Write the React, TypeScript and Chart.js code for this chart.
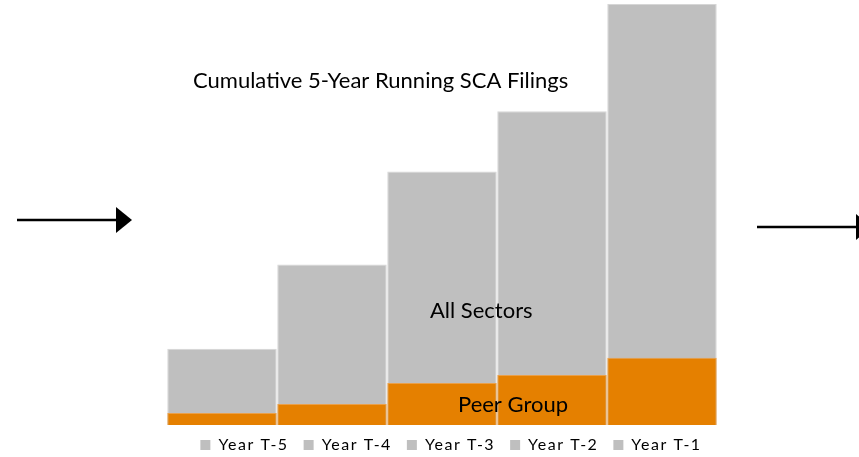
import React, { useEffect, useRef } from "react";
import { Chart, registerables } from "chart.js";

Chart.register(...registerables);

const categories = ["Year T-5", "Year T-4", "Year T-3", "Year T-2", "Year T-1"];
const allSectors = [76, 160, 253, 313, 420];
const peerGroup = [12, 21, 42, 50, 67];
const titleText = "Cumulative 5-Year Running SCA Filings";
const allSectorsLabel = "All Sectors";
const peerGroupLabel = "Peer Group";

const FONT = "Lato, 'Liberation Sans', sans-serif";

const annotations = {
  id: "annotations",
  afterDraw(chart: any) {
    const ctx = chart.ctx as CanvasRenderingContext2D;
    ctx.save();
    (ctx as any).letterSpacing = "0px";
    ctx.fillStyle = "#000";
    ctx.font = `22px ${FONT}`;
    ctx.textBaseline = "alphabetic";
    ctx.textAlign = "left";
    ctx.fillText(titleText, 193, 88);
    ctx.fillText(allSectorsLabel, 430, 318);
    ctx.fillText(peerGroupLabel, 458, 412);

    ctx.strokeStyle = "#000";
    ctx.lineWidth = 2.5;
    // left arrow
    ctx.beginPath();
    ctx.moveTo(17, 220);
    ctx.lineTo(118, 220);
    ctx.stroke();
    ctx.beginPath();
    ctx.moveTo(116, 207);
    ctx.lineTo(132, 220);
    ctx.lineTo(116, 233);
    ctx.closePath();
    ctx.fill();
    // right arrow
    ctx.beginPath();
    ctx.moveTo(757, 227);
    ctx.lineTo(858, 227);
    ctx.stroke();
    ctx.beginPath();
    ctx.moveTo(856, 214);
    ctx.lineTo(872, 227);
    ctx.lineTo(856, 240);
    ctx.closePath();
    ctx.fill();
    ctx.restore();
  },
};

const spacing = {
  id: "spacing",
  beforeUpdate(chart: any) {
    (chart.ctx as any).letterSpacing = "1.5px";
  },
  afterLayout(chart: any) {
    const lg = chart.legend;
    if (lg) {
      lg.left += 9;
      lg.right += 9;
      lg.top -= 3;
      lg.bottom -= 3;
    }
  },
  beforeDraw(chart: any) {
    (chart.ctx as any).letterSpacing = "1.5px";
  },
};

export default function App() {
  const ref = useRef<HTMLCanvasElement>(null);
  useEffect(() => {
    if (!ref.current) return;
    const chart = new Chart(ref.current, {
      type: "bar",
      data: {
        labels: categories,
        datasets: [
          {
            label: peerGroupLabel,
            data: peerGroup,
            backgroundColor: "#e58000",
            borderColor: "#eaa04a",
            borderWidth: 1,
            grouped: false,
            categoryPercentage: 1,
            barPercentage: 0.995,
          } as any,
          {
            label: allSectorsLabel,
            data: allSectors,
            backgroundColor: "#bfbfbf",
            borderColor: "#d6d6d6",
            borderWidth: 1,
            grouped: false,
            categoryPercentage: 1,
            barPercentage: 0.995,
          } as any,
        ],
      },
      options: {
        animation: false,
        responsive: false,
        maintainAspectRatio: false,
        layout: { padding: { left: 167, right: 142, top: 4, bottom: -9 } },
        scales: {
          x: { display: false },
          y: { display: false, min: 0, max: 420 },
        },
        plugins: {
          tooltip: { enabled: false },
          legend: {
            position: "bottom",
            labels: {
              boxWidth: 10,
              boxHeight: 10,
              padding: 15,
              color: "#595959",
              font: { family: FONT, size: 16 },
              generateLabels: () =>
                categories.map((c, i) => ({
                  text: c,
                  fillStyle: "#bfbfbf",
                  strokeStyle: "#bfbfbf",
                  lineWidth: 0,
                  hidden: false,
                  index: i,
                  datasetIndex: 1,
                })),
            },
          },
        },
      },
      plugins: [spacing, annotations],
    });
    return () => chart.destroy();
  }, []);
  return (
    <div style={{ position: "absolute", left: 0, top: 0, width: 859, height: 457, background: "#fff" }}>
      <canvas ref={ref} width={859} height={457} style={{ width: 859, height: 457 }} />
    </div>
  );
}
